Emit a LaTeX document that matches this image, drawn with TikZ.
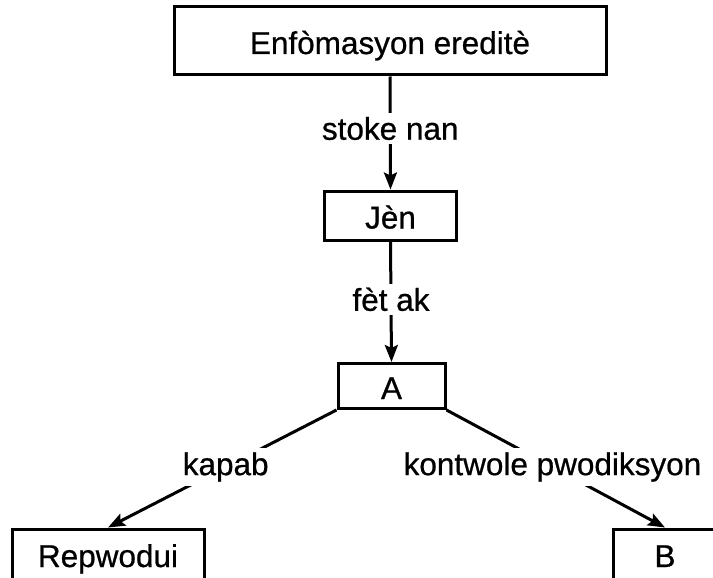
\documentclass[tikz,border=0pt]{standalone}
\usepackage{fontspec}
\setmainfont{Liberation Sans}[FakeBold=0.7]
\usetikzlibrary{arrows.meta}
\begin{document}
\begin{tikzpicture}[x=1pt,y=-1pt,
  txt/.style={font=\fontsize{31.5}{36}\selectfont},
  box/.style={txt, draw, line width=3pt, inner sep=0pt, text height=26pt, text depth=0pt},
  lbl/.style={txt, fill=white, inner sep=4pt},
  conn/.style={line width=3pt, -{Stealth[length=17pt,width=13pt,inset=3pt]}}
]
\useasboundingbox (0,0) rectangle (713,578);
\clip (0,0) rectangle (713,578);
\node[box, minimum width=432pt, minimum height=68pt] (top) at (390,41) {Enfòmasyon ereditè};
\node[box, minimum width=132pt, minimum height=49pt] (jen) at (390.5,215.5) {Jèn};
\node[box, minimum width=107pt, minimum height=45pt] (a) at (391.5,386) {A};
\node[box, minimum width=192pt, minimum height=50pt] (rep) at (108,554) {Repwodui};
\node[box, minimum width=104pt, minimum height=50pt] (b) at (665,554) {B};
\draw[conn] (top.south) -- node[lbl, pos=0.46] {stoke nan} (jen.north);
\draw[conn] (jen.south) -- node[lbl, pos=0.48] {fèt ak} (a.north);
\draw[conn] (a.south west) -- node[lbl, pos=0.485] {kapab} (rep.north);
\draw[conn] (a.south east) -- node[lbl, pos=0.485] {kontwole pwodiksyon} (b.north);
\end{tikzpicture}
\end{document}
